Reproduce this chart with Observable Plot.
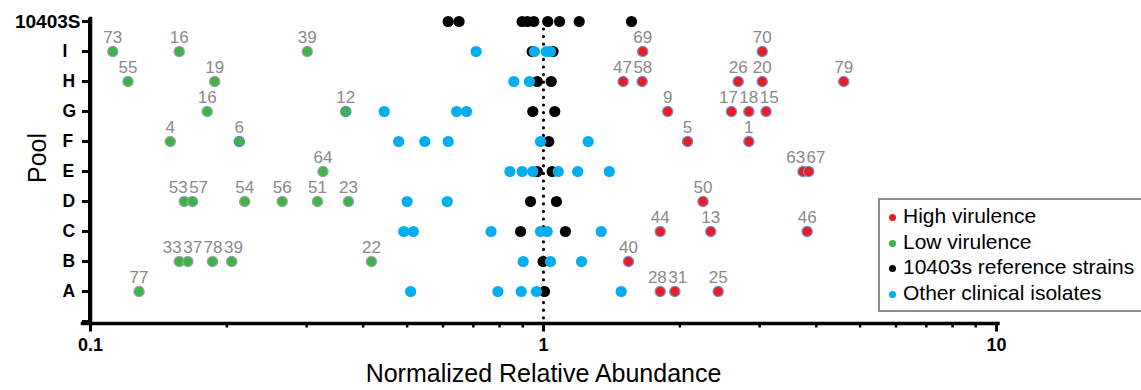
<!DOCTYPE html>
<html>
<head>
<meta charset="utf-8">
<script src="https://cdn.jsdelivr.net/npm/d3@7"></script>
<script src="https://cdn.jsdelivr.net/npm/@observablehq/plot@0.6"></script>
<style>
  body { margin: 0; background: #fff; font-family: "Liberation Sans", Arial, sans-serif; }
  #wrap { position: relative; width: 1141px; height: 390px; }
  #legend { position: absolute; left: 878px; top: 198px; width: 261px; height: 110px;
    border: 2px solid #8c8c8c; background: #fff; }
  #legend .item { position: absolute; left: 9px; font-size: 21px; color: #000; white-space: nowrap; line-height: 24px; }
  #legend .dot { display: inline-block; width: 7px; height: 7px; border-radius: 50%; margin-right: 7px; vertical-align: 2px; }
  #yline { position: absolute; background: #000; }
</style>
</head>
<body>
<div id="wrap"></div>
<script>
// ---- data ----
const pools = ["10403S", "I", "H", "G", "F", "E", "D", "C", "B", "A"];
const xTicksMajor = [0.1, 1, 10];
const xTickLabels = ["0.1", "1", "10"];

const highPool  = ["I","I","H","H","H","H","H","G","G","G","G","F","F","E","E","D","C","C","C","B","A","A","A"];
const highValue = [1.656,3.04,1.499,1.651,2.69,3.04,4.60,1.88,2.60,2.84,3.10,2.08,2.84,3.74,3.85,2.25,1.81,2.34,3.82,1.54,1.81,1.95,2.43];
const highLabel = ["69","70","47","58","26","20","79","9","17","18","15","5","1","63","67","50","44","13","46","40","28","31","25"];

const lowPool  = ["I","I","I","H","H","G","G","F","F","E","D","D","D","D","D","D","B","B","B","B","B","A"];
const lowValue = [0.112,0.157,0.301,0.121,0.188,0.181,0.366,0.150,0.213,0.326,0.161,0.168,0.219,0.265,0.317,0.371,0.157,0.164,0.186,0.205,0.417,0.128];
const lowLabel = ["73","16","39","55","19","16","12","4","6","64","53","57","54","56","51","23","33","37","78","39","22","77"];

const refPool  = ["10403S","10403S","10403S","10403S","10403S","10403S","10403S","10403S","10403S","I","I","H","H","G","G","F","E","E","D","D","C","C","B","A"];
const refValue = [0.616,0.651,0.897,0.922,0.952,1.022,1.085,1.199,1.564,0.944,1.05,0.969,1.04,0.947,1.059,1.027,0.969,1.045,0.936,1.068,0.890,1.118,0.998,1.005];

const otherPool  = ["I","I","I","I","H","H","G","G","G","F","F","F","F","F","E","E","E","E","E","E","D","D","C","C","C","C","C","C","B","B","B","A","A","A","A","A"];
const otherValue = [0.710,0.955,1.014,1.036,0.860,0.931,0.445,0.643,0.676,0.479,0.547,0.616,0.985,1.255,0.843,0.897,0.947,1.078,1.190,1.397,0.500,0.613,0.4915,0.516,0.766,0.985,1.019,1.341,0.902,1.036,1.213,0.509,0.793,0.893,0.965,1.484];

const legendLabels = ["High virulence", "Low virulence", "10403s reference strains", "Other clinical isolates"];
const legendColors = ["#ED1C24", "#39B54A", "#000000", "#00AEEF"];

// ---- layout constants ----
const W = 1141, H = 390, ML = 90, MR = 145, MT = 18, MB = 67;
const font = "Liberation Sans, Arial, sans-serif";
const labelSize = 17;
const R = 5.6;
const axisW = 3.5;

// ---- build tables ----
const high = highPool.map((p, i) => ({pool: p, value: highValue[i], label: highLabel[i]}));
const low = lowPool.map((p, i) => ({pool: p, value: lowValue[i], label: lowLabel[i]}));
const ref = refPool.map((p, i) => ({pool: p, value: refValue[i]}));
const other = otherPool.map((p, i) => ({pool: p, value: otherValue[i]}));
const yDomain = [...pools, ""];
const minorTicks = [];
for (const d of [0.1, 1]) for (let k = 2; k <= 9; k++) minorTicks.push(+(d * k).toFixed(3));

// label de-overlap, computed in pixel space with the same log mapping Plot uses
const xs = d3.scaleLog().domain([0.1, 10]).range([ML, W - MR]);
const labeled = [...low, ...high];
d3.group(labeled, d => d.pool).forEach(group => {
  const g = group.slice().sort((a, b) => a.value - b.value);
  const px = g.map(d => xs(d.value));
  const p = px.slice();
  const w = g.map(d => d.label.length * 0.556 * labelSize);
  for (let it = 0; it < 100; it++) {
    for (let i = 1; i < g.length; i++) {
      const need = (w[i] + w[i - 1]) / 2 + 1.5;
      const gap = p[i] - p[i - 1];
      if (gap < need) { const s = (need - gap) / 2; p[i - 1] -= s; p[i] += s; }
    }
  }
  g.forEach((d, i) => d.labelX = xs.invert(p[i]));
});

const isBlueRim = d => (d.label === "6" && d.pool === "F") || (d.label === "12" && d.pool === "G");
const letters = pools.filter(d => d !== "10403S");

const chart = Plot.plot({
  width: W, height: H,
  marginLeft: ML, marginRight: MR, marginTop: MT, marginBottom: MB,
  style: {fontFamily: font, background: "#fff"},
  x: {type: "log", domain: [0.1, 10]},
  y: {type: "point", domain: yDomain, padding: 0},
  marks: [
    // dotted line at 1
    Plot.ruleX([1], {y1: () => "10403S", y2: () => "", insetTop: 8, stroke: "#000", strokeWidth: 3.2, strokeDasharray: "0 7.6", strokeLinecap: "round"}),
    // points
    Plot.dot(ref, {x: "value", y: "pool", r: R, fill: "#000", stroke: "none"}),
    Plot.dot(other, {x: "value", y: "pool", r: R, fill: "#00AEEF", stroke: "none"}),
    Plot.dot(low, {x: "value", y: "pool", r: R - 0.5, fill: "#39B54A",
      stroke: d => isBlueRim(d) ? "#5f86c8" : "#a0a0a0", strokeWidth: 1.3}),
    Plot.dot(high, {x: "value", y: "pool", r: R - 0.5, fill: "#ED1C24", stroke: "#6f8fcf", strokeWidth: 1.3}),
    // point labels
    Plot.text(labeled, {x: "labelX", y: "pool", text: "label", dy: -13.5, fill: "#8a8a8a", fontSize: labelSize, fontFamily: font}),
    // y axis ticks and labels
    Plot.axisY({tickSize: 8, strokeWidth: 3, tickFormat: () => "", label: null}),
    Plot.text(letters, {y: d => d, frameAnchor: "left", dx: -28, textAnchor: "start", lineAnchor: "middle", fontSize: 17.5, fontWeight: "bold", fill: "#000", fontFamily: font}),
    Plot.text(["10403S"], {y: d => d, frameAnchor: "left", dx: -10, textAnchor: "end", lineAnchor: "middle", fontSize: 19, fontWeight: "bold", fill: "#000", fontFamily: font}),
    // x axis
    Plot.axisX({ticks: minorTicks, tickSize: 4.5, strokeWidth: 2.5, tickFormat: () => "", label: null}),
    Plot.axisX({ticks: xTicksMajor, tickSize: 8.5, strokeWidth: 3, tickPadding: 6, tickFormat: (d) => xTickLabels[xTicksMajor.indexOf(d)], fontSize: 18, fontWeight: "bold", fill: "#000", label: null, fontFamily: font}),
    // axis titles
    Plot.text(["Normalized Relative Abundance"], {frameAnchor: "bottom", dy: 50, lineAnchor: "middle", textAnchor: "middle", fontSize: 25, fill: "#000", fontFamily: font}),
    Plot.text(["Pool"], {frameAnchor: "left", dx: -53, dy: -13, rotate: -90, lineAnchor: "middle", textAnchor: "middle", fontSize: 25, fill: "#000", fontFamily: font}),
    // axis lines (drawn last)
    Plot.frame({anchor: "bottom", stroke: "#000", strokeWidth: axisW, insetLeft: -8, insetRight: -1.5}),
    Plot.frame({anchor: "left", stroke: "#000", strokeWidth: axisW})
  ]
});

const wrap = document.getElementById("wrap");
wrap.appendChild(chart);

// y-axis line overlay aligned to the plot frame's left edge
const yline = document.createElement("div");
yline.id = "yline";
yline.style.left = (ML - axisW / 2) + "px";
yline.style.top = MT + "px";
yline.style.width = axisW + "px";
yline.style.height = (H - MB - MT + axisW / 2) + "px";
wrap.appendChild(yline);

const legend = document.createElement("div");
legend.id = "legend";
legendLabels.forEach((lab, i) => {
  const it = document.createElement("div");
  it.className = "item";
  it.style.top = (4 + i * 25.5) + "px";
  const dot = document.createElement("span");
  dot.className = "dot";
  dot.style.background = legendColors[i];
  it.appendChild(dot);
  it.appendChild(document.createTextNode(lab));
  legend.appendChild(it);
});
wrap.appendChild(legend);
</script>
</body>
</html>
